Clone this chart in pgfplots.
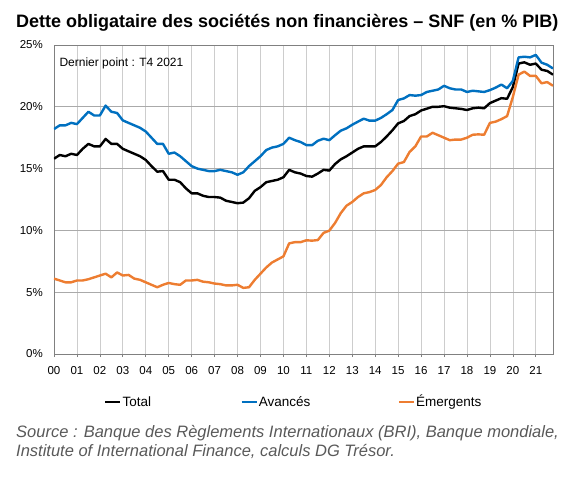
\documentclass[border=0pt]{standalone}
\usepackage{fontspec}
\setmainfont{Liberation Sans}
\usepackage{pgfplots}
\pgfplotsset{compat=1.18}
\usepackage{pgfplotstable}
\definecolor{avblue}{RGB}{0,112,192}
\definecolor{emorange}{RGB}{237,125,49}
\definecolor{srcgray}{RGB}{89,89,89}
\definecolor{hgrid}{RGB}{170,170,170}
\definecolor{vgrid}{RGB}{205,205,205}
\definecolor{axgray}{RGB}{128,128,128}
\pgfplotstableread{
t tot av em
2000.00 15.8 18.2 6.1
2000.25 16.1 18.5 5.95
2000.50 16.0 18.5 5.8
2000.75 16.2 18.7 5.8
2001.00 16.1 18.6 5.95
2001.25 16.6 19.1 5.95
2001.50 17.0 19.6 6.05
2001.75 16.8 19.3 6.2
2002.00 16.8 19.3 6.35
2002.25 17.4 20.1 6.5
2002.50 17.0 19.6 6.2
2002.75 17.0 19.5 6.6
2003.00 16.6 18.9 6.35
2003.25 16.4 18.7 6.4
2003.50 16.2 18.5 6.1
2003.75 16.0 18.3 6.0
2004.00 15.7 18.0 5.8
2004.25 15.2 17.5 5.6
2004.50 14.75 17.0 5.4
2004.75 14.8 17.0 5.6
2005.00 14.1 16.2 5.75
2005.25 14.1 16.3 5.65
2005.50 13.9 16.0 5.6
2005.75 13.4 15.6 5.95
2006.00 13.0 15.2 5.95
2006.25 13.0 15.0 6.0
2006.50 12.8 14.9 5.85
2006.75 12.7 14.8 5.8
2007.00 12.7 14.8 5.7
2007.25 12.65 14.9 5.65
2007.50 12.4 14.8 5.55
2007.75 12.3 14.7 5.55
2008.00 12.2 14.5 5.6
2008.25 12.25 14.7 5.35
2008.50 12.6 15.2 5.4
2008.75 13.2 15.6 6.0
2009.00 13.5 16.0 6.5
2009.25 13.9 16.5 7.0
2009.50 14.0 16.7 7.4
2009.75 14.1 16.8 7.65
2010.00 14.3 17.0 7.9
2010.25 14.9 17.5 8.95
2010.50 14.7 17.3 9.05
2010.75 14.6 17.15 9.05
2011.00 14.4 16.9 9.2
2011.25 14.35 16.9 9.17
2011.50 14.6 17.25 9.22
2011.75 14.9 17.42 9.8
2012.00 14.84 17.3 9.98
2012.25 15.37 17.7 10.6
2012.50 15.75 18.07 11.4
2012.75 16.0 18.26 12.0
2013.00 16.3 18.55 12.3
2013.25 16.6 18.8 12.7
2013.50 16.8 19.04 13.0
2013.75 16.8 18.88 13.1
2014.00 16.8 18.88 13.27
2014.25 17.15 19.1 13.67
2014.50 17.6 19.4 14.3
2014.75 18.1 19.74 14.8
2015.00 18.66 20.55 15.4
2015.25 18.85 20.68 15.53
2015.50 19.25 20.95 16.35
2015.75 19.4 20.9 16.8
2016.00 19.7 20.95 17.6
2016.25 19.85 21.2 17.6
2016.50 20.0 21.3 17.9
2016.75 20.0 21.4 17.7
2017.00 20.05 21.7 17.5
2017.25 19.93 21.5 17.3
2017.50 19.88 21.4 17.35
2017.75 19.83 21.4 17.35
2018.00 19.74 21.2 17.5
2018.25 19.88 21.3 17.74
2018.50 19.93 21.25 17.77
2018.75 19.88 21.2 17.74
2019.00 20.3 21.35 18.7
2019.25 20.5 21.55 18.8
2019.50 20.7 21.8 19.0
2019.75 20.65 21.5 19.25
2020.00 21.6 22.1 20.8
2020.25 23.5 24.0 22.6
2020.50 23.6 24.05 22.85
2020.75 23.4 24.0 22.5
2021.00 23.5 24.2 22.5
2021.25 23.0 23.57 21.9
2021.50 22.9 23.4 22.0
2021.75 22.6 23.1 21.7
}\data

\begin{document}
\begin{tikzpicture}[x=1pt,y=1pt]
\path[use as bounding box] (0,0) rectangle (581,-477);
\node[anchor=base west, inner sep=0pt, font=\fontsize{18}{21}\selectfont\bfseries] at (16,-27)
  {Dette obligataire des sociétés non financières – SNF (en \% PIB)};
\begin{axis}[
  at={(54pt,-354pt)}, anchor=south west,
  scale only axis, width=499pt, height=309pt,
  xmin=2000, xmax=2021.75, ymin=0, ymax=25,
  xtick={2000,2001,2002,2003,2004,2005,2006,2007,2008,2009,2010,2011,2012,2013,2014,2015,2016,2017,2018,2019,2020,2021},
  xticklabels={00,01,02,03,04,05,06,07,08,09,10,11,12,13,14,15,16,17,18,19,20,21},
  ytick={0,5,10,15,20,25},
  yticklabels={0\%,5\%,10\%,15\%,20\%,25\%},
  grid=major,
  x grid style={vgrid, line width=0.7pt},
  y grid style={hgrid, line width=0.7pt},
  axis line style={axgray, line width=0.8pt},
  tick label style={font=\fontsize{11.5}{13}\selectfont, /pgf/number format/assume math mode=true},
  xtick pos=bottom, ytick pos=left, tick align=outside,
  major tick length=3pt,
  xtick style={axgray, line width=0.7pt},
  ytick style={draw=none},
  xticklabel style={inner sep=0pt, yshift=-9pt},
  yticklabel style={inner sep=0pt, xshift=-8pt},
  legend columns=3,
  legend cell align=left,
  legend style={at={(0.1002,-0.1544)}, anchor=west, draw=none, fill=none,
    inner sep=0pt, font=\fontsize{13.5}{16}\selectfont,
    nodes={inner sep=1pt},
    /tikz/every even column/.style={column sep=0pt}},
  legend image code/.code={\draw[#1, line width=2.3pt] (0pt,0pt) -- (15pt,0pt);},
  every axis plot/.append style={line width=2.4pt, line join=round},
]
\addplot[black] table[x=t, y=tot] {\data};
\addlegendentry{\makebox[117pt][l]{\vphantom{Ég}Total}}
\addplot[avblue] table[x=t, y=av] {\data};
\addlegendentry{\makebox[138pt][l]{\vphantom{Ég}Avancés}}
\addplot[emorange] table[x=t, y=em] {\data};
\addlegendentry{\vphantom{Ég}Émergents}
\end{axis}
\node[anchor=base west, inner sep=0pt, font=\fontsize{12}{14}\selectfont] at (59.3,-66) {Dernier point : T4 2021};
\node[anchor=base west, inner sep=0pt, font=\fontsize{16.5}{19}\selectfont\itshape, text=srcgray] at (16,-437.7)
  {Source : Banque des Règlements Internationaux (BRI), Banque mondiale,};
\node[anchor=base west, inner sep=0pt, font=\fontsize{16.5}{19}\selectfont\itshape, text=srcgray] at (16,-456.7)
  {Institute of International Finance, calculs DG Trésor.};
\end{tikzpicture}
\end{document}
